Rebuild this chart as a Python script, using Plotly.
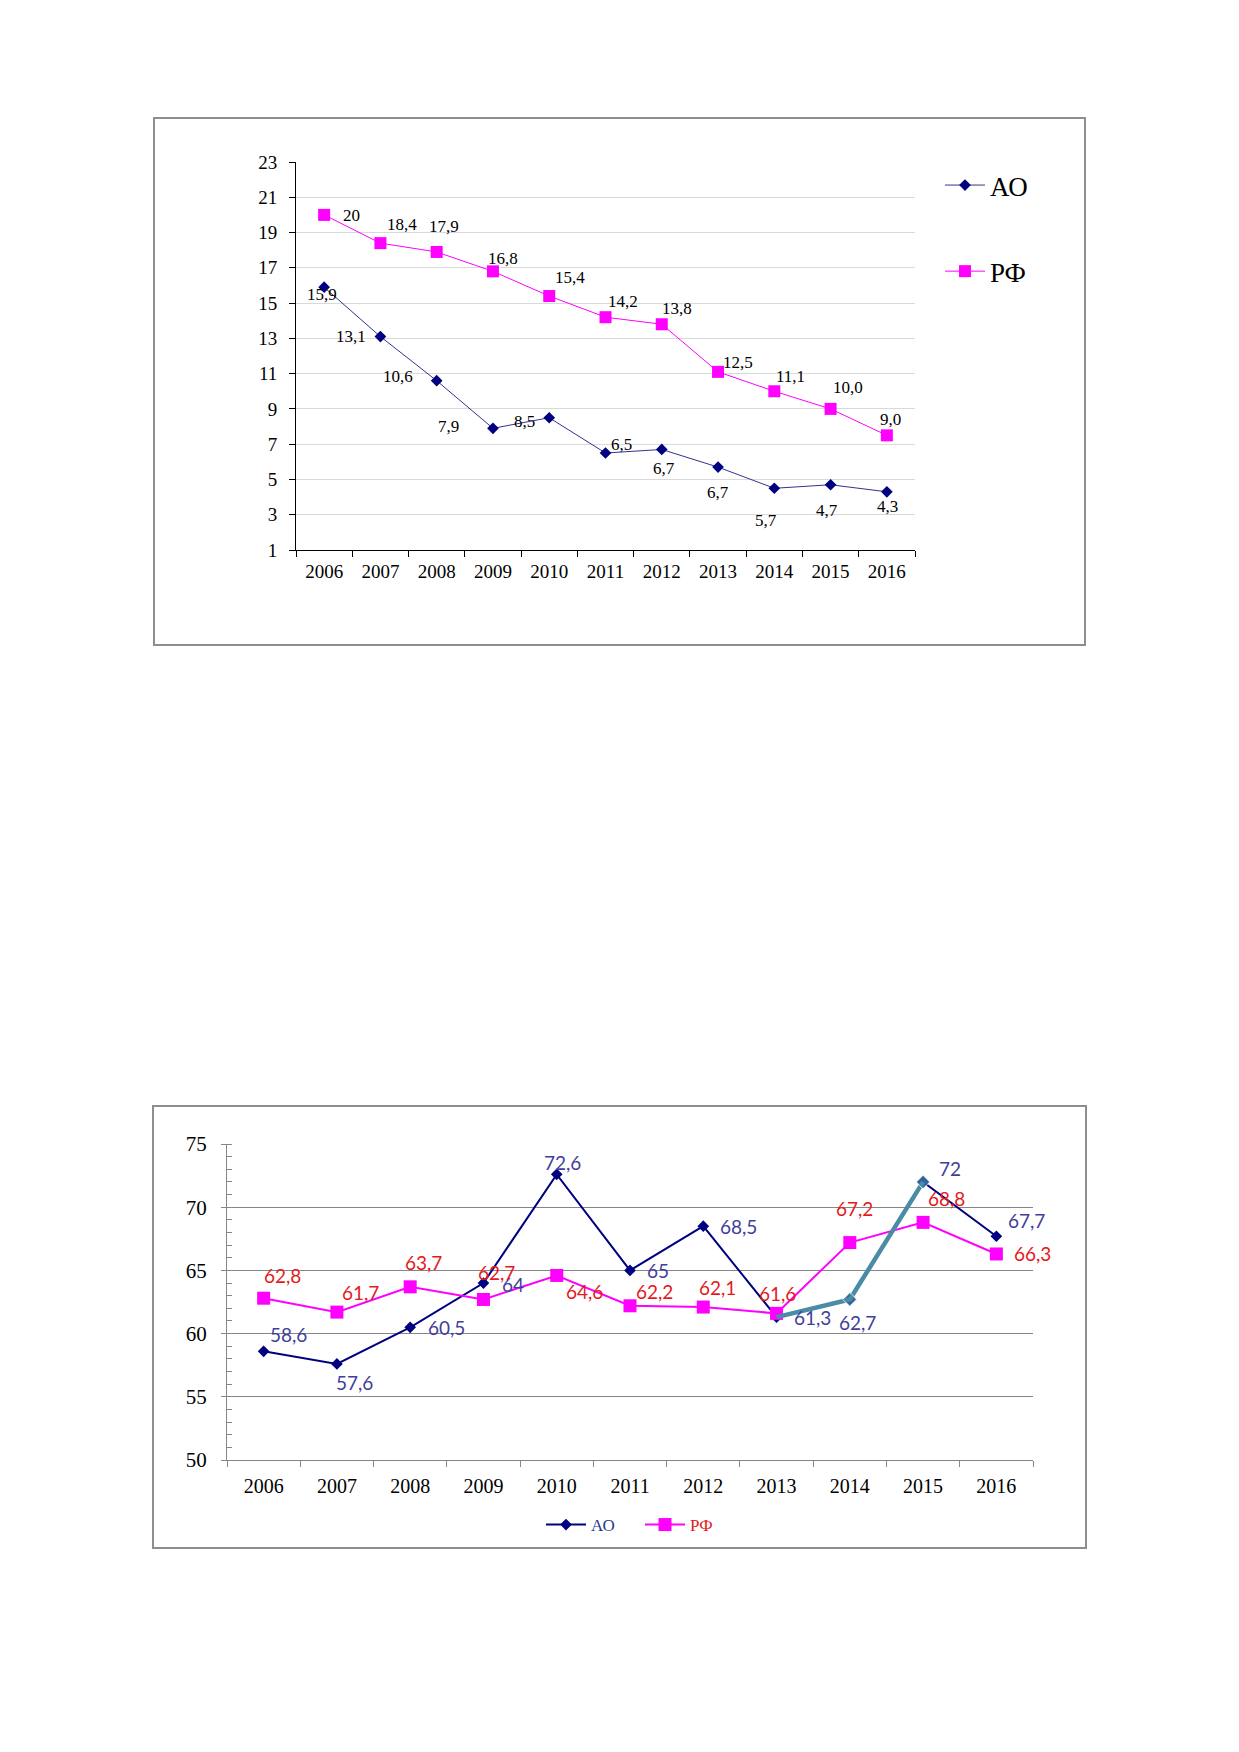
import plotly.graph_objects as go

# --- данные ---
years = ["2006", "2007", "2008", "2009", "2010", "2011", "2012", "2013", "2014", "2015", "2016"]

# график 1
ao_top = [15.9, 13.1, 10.6, 7.9, 8.5, 6.5, 6.7, 5.7, 4.5, 4.7, 4.3]
ao_top_labels = ["15,9", "13,1", "10,6", "7,9", "8,5", "6,5", "6,7", "6,7", "5,7", "4,7", "4,3"]
rf_top = [20.0, 18.4, 17.9, 16.8, 15.4, 14.2, 13.8, 11.1, 10.0, 9.0, 7.5]
rf_top_labels = ["20", "18,4", "17,9", "16,8", "15,4", "14,2", "13,8", "12,5", "11,1", "10,0", "9,0"]

# график 2
ao_bot = [58.6, 57.6, 60.5, 64, 72.6, 65, 68.5, 61.3, 62.7, 72, 67.7]
ao_bot_labels = ["58,6", "57,6", "60,5", "64", "72,6", "65", "68,5", "61,3", "62,7", "72", "67,7"]
rf_bot = [62.8, 61.7, 63.7, 62.7, 64.6, 62.2, 62.1, 61.6, 67.2, 68.8, 66.3]
rf_bot_labels = ["62,8", "61,7", "63,7", "62,7", "64,6", "62,2", "62,1", "61,6", "67,2", "68,8", "66,3"]
hl_from, hl_to = 7, 10   # выделенный участок 2013-2015

# --- сдвиги подписей (px) ---
ao_top_shift = [(-2, -7), (-29, 0), (-39, 4), (-44, 2), (-25, -4), (16, 9),
                (2, -19), (0, -25), (-8, -32), (-4, -26), (1, -15)]
rf_top_shift = [(27, -1), (22, 19), (7, 25), (10, 13), (21, 19), (17, 16),
                (15, 16), (20, 9), (16, 15), (17, 21), (4, 16)]
ao_bot_shift = [(25, 17), (18, -19), (36, 0), (30, -1), (6, 12), (28, 0),
                (35, 0), (36, 0), (8, -23), (27, 13), (30, 16)]
rf_bot_shift = [(19, 23), (24, 20), (13, 24), (13, 27), (28, -16), (24, 14),
                (14, 20), (1, 20), (5, 34), (23, 24), (36, 0)]

# страница 1239x1752, у body отступ 8px
PAD = 8
FW, FH = 1239 - 2 * PAD, 1752 - 2 * PAD
SERIF = "Liberation Serif"
SANS = "Lato"


def px_x(p):
    return (p - PAD) / FW


def px_y(p):
    return 1 - (p - PAD) / FH


fig = go.Figure()

# график 1
fig.add_trace(go.Scatter(x=years, y=ao_top, mode="lines+markers", name="АО",
                         line=dict(color="#33338f", width=1),
                         marker=dict(symbol="diamond", size=9, color="#000080"),
                         xaxis="x", yaxis="y", legend="legend", legendgroup="a"))
fig.add_trace(go.Scatter(x=years, y=rf_top, mode="lines+markers", name="РФ",
                         line=dict(color="#ff00ff", width=1),
                         marker=dict(symbol="square", size=12, color="#ff00ff"),
                         xaxis="x", yaxis="y", legend="legend", legendgroup="b"))

# график 2
fig.add_trace(go.Scatter(x=years, y=ao_bot, mode="lines+markers",
                         name="<span style='color:#1f3b8c'>АО</span>",
                         line=dict(color="#000080", width=2),
                         marker=dict(symbol="diamond", size=9, color="#000080"),
                         xaxis="x2", yaxis="y2", legend="legend2"))
fig.add_trace(go.Scatter(x=years, y=rf_bot, mode="lines+markers",
                         name="<span style='color:#e31a1c'>РФ</span>",
                         line=dict(color="#ff00ff", width=2),
                         marker=dict(symbol="square", size=13, color="#ff00ff"),
                         xaxis="x2", yaxis="y2", legend="legend2"))
fig.add_trace(go.Scatter(x=years[hl_from:hl_to], y=ao_bot[hl_from:hl_to], mode="lines+markers",
                         line=dict(color="#4a8ca6", width=4.5),
                         marker=dict(symbol="diamond", size=[0, 11, 11], color="#4a8ca6"),
                         xaxis="x2", yaxis="y2", showlegend=False))

# подписи значений (x — номер категории)
ann = []
for labels, vals, shifts, xr, yr, font in [
    (ao_top_labels, ao_top, ao_top_shift, "x", "y", dict(family=SERIF, size=17, color="black")),
    (rf_top_labels, rf_top, rf_top_shift, "x", "y", dict(family=SERIF, size=17, color="black")),
    (ao_bot_labels, ao_bot, ao_bot_shift, "x2", "y2", dict(family=SANS, size=19, color="#40409a")),
    (rf_bot_labels, rf_bot, rf_bot_shift, "x2", "y2", dict(family=SANS, size=19, color="#e31a1c")),
]:
    for i, (v, t, (dx, dy)) in enumerate(zip(vals, labels, shifts)):
        ann.append(dict(x=i, y=v, xref=xr, yref=yr, text=t, showarrow=False,
                        xshift=dx, yshift=dy, font=font))

frame = dict(type="rect", xref="paper", yref="paper", line=dict(color="#8e8e8e", width=2),
             fillcolor="rgba(0,0,0,0)", layer="below")

fig.update_layout(
    width=FW, height=FH,
    margin=dict(l=0, r=0, t=0, b=0, autoexpand=False),
    paper_bgcolor="white", plot_bgcolor="white",
    annotations=ann,
    shapes=[
        dict(frame, x0=px_x(154), x1=px_x(1085), y0=px_y(645), y1=px_y(118)),
        dict(frame, x0=px_x(153), x1=px_x(1086), y0=px_y(1548), y1=px_y(1106)),
    ],
    xaxis=dict(domain=[px_x(296), px_x(915)], anchor="y", type="category",
               range=[-0.5, 10.5], tickson="boundaries", ticks="outside", ticklen=6,
               tickcolor="black", showline=True, linecolor="black", linewidth=1,
               showgrid=False, ticklabelstandoff=4, automargin=False,
               tickfont=dict(family=SERIF, size=19, color="black")),
    yaxis=dict(domain=[px_y(550), px_y(162)], anchor="x", range=[1, 23],
               tickvals=list(range(1, 24, 2)), ticks="outside", ticklen=6, tickcolor="black",
               showline=True, linecolor="black", linewidth=1, showgrid=False,
               zeroline=False, ticklabelstandoff=8, automargin=False,
               minor=dict(tickvals=list(range(3, 22, 2)), showgrid=True,
                          gridcolor="#d9d9d9", gridwidth=1, ticks=""),
               tickfont=dict(family=SERIF, size=19, color="black")),
    xaxis2=dict(domain=[px_x(227), px_x(1033)], anchor="y2", type="category",
                range=[-0.5, 10.5], tickson="boundaries", ticks="outside", ticklen=6,
                tickcolor="#868686", showline=True, linecolor="#868686", linewidth=1,
                showgrid=False, ticklabelstandoff=8, automargin=False,
                tickfont=dict(family=SERIF, size=20, color="black")),
    yaxis2=dict(domain=[px_y(1460), px_y(1144)], anchor="x2", range=[50, 75], dtick=5,
                ticks="outside", ticklen=5, tickcolor="#868686", showline=True,
                linecolor="#868686", linewidth=1, showgrid=True, gridcolor="#868686",
                gridwidth=1, zeroline=False, ticklabelstandoff=10, automargin=False,
                minor=dict(dtick=1, ticks="inside", ticklen=5, tickcolor="#868686", showgrid=False),
                tickfont=dict(family=SERIF, size=21, color="black")),
    legend=dict(x=px_x(940), y=px_y(161), xanchor="left", yanchor="top",
                font=dict(family=SERIF, size=27, color="black"),
                tracegroupgap=48, itemwidth=40, bgcolor="rgba(0,0,0,0)"),
    legend2=dict(orientation="h", x=px_x(541), y=px_y(1507), xanchor="left", yanchor="top",
                 font=dict(family=SERIF, size=17, color="black"),
                 itemwidth=40, entrywidth=44, bgcolor="rgba(0,0,0,0)"),
)

fig.write_html("out.html")
